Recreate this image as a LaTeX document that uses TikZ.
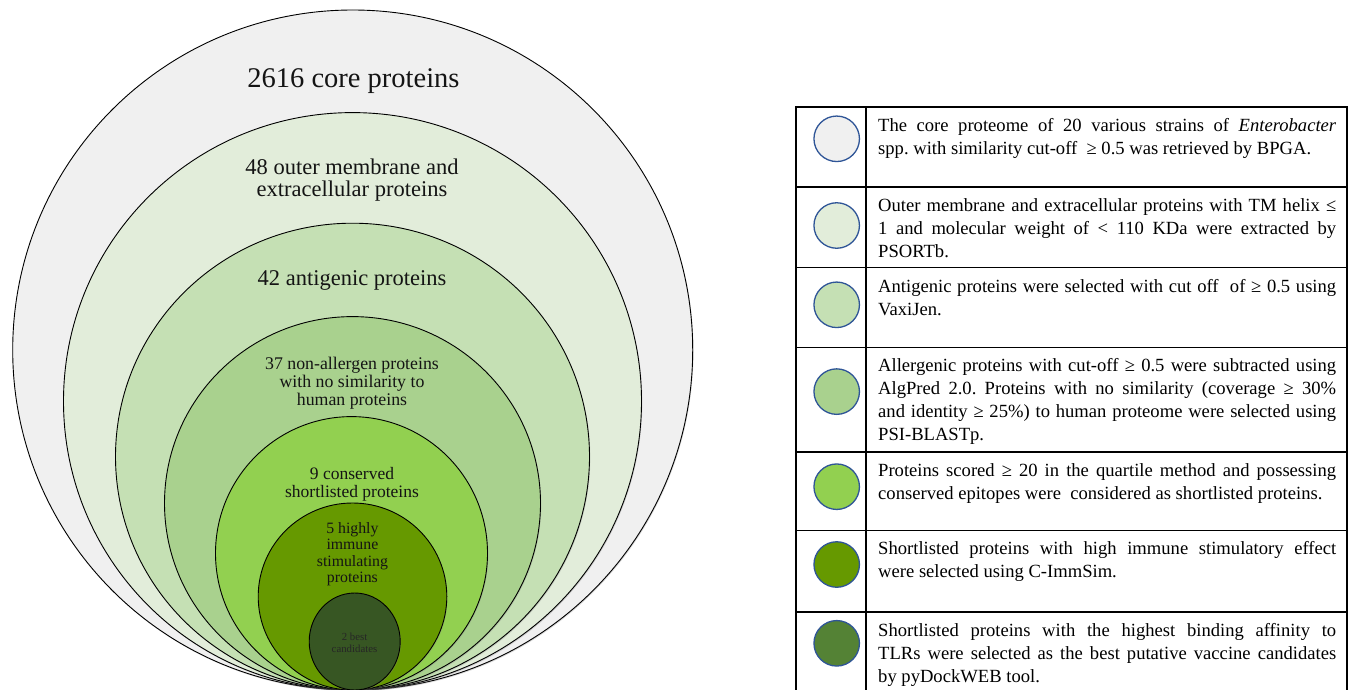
\documentclass[tikz,border=0pt]{standalone}
\usepackage{fontspec}
\setmainfont{Liberation Serif}
\usetikzlibrary{shapes.geometric,shadows}
\definecolor{cA}{HTML}{F0F0F0}
\definecolor{cB}{HTML}{E2EDDA}
\definecolor{cC}{HTML}{C5E0B4}
\definecolor{cD}{HTML}{A9D18E}
\definecolor{cE}{HTML}{92D050}
\definecolor{cF}{HTML}{669900}
\definecolor{cG}{HTML}{375623}
\definecolor{sG}{HTML}{548235}
\definecolor{swblue}{HTML}{2F5597}
\newcommand{\descset}{\frenchspacing\hyphenpenalty=10000 \exhyphenpenalty=10000 \tolerance=9999 }
\begin{document}
\begin{tikzpicture}[x=1pt,y=-1pt,
  ring/.style={ellipse, draw=black, line width=0.9pt, inner sep=0pt,
    drop shadow={shadow xshift=0.8pt,shadow yshift=-1.2pt,opacity=0.3}},
  lbl/.style={align=center, text=black!92, inner sep=0pt},
  swatch/.style={circle, draw=swblue, line width=1.3pt, minimum size=45.5pt, inner sep=0pt},
  desc/.style={anchor=north west, inner sep=0pt, text width=458pt, align=justify,
    font=\fontsize{18.6}{22.8}\selectfont},
  gridline/.style={line width=1.4pt, draw=black}]
\useasboundingbox (0,0) rectangle (1356,690);
\fill[white] (0,0) rectangle (1356,690);

% nested ellipses
\node[ring, fill=cA, minimum width=680pt, minimum height=680pt] (e1) at (352.7,350) {};
\node[ring, fill=cB, minimum width=578pt, minimum height=577.4pt] (e2) at (352.5,401.3) {};
\node[ring, fill=cC, minimum width=474pt, minimum height=466.8pt] (e3) at (352.5,456.6) {};
\node[ring, fill=cD, minimum width=376pt, minimum height=373.4pt] (e4) at (352.5,503.3) {};
\node[ring, fill=cE, minimum width=272pt, minimum height=273.4pt] (e5) at (351.5,553.3) {};
\node[ring, fill=cF, minimum width=188.6pt, minimum height=187pt] (e6) at (352.5,596.5) {};
\node[ring, fill=cG, minimum width=91pt, minimum height=97pt] (e7) at (354.7,641.5) {};

% labels
\node[lbl, font=\fontsize{28.5}{33}\selectfont] (l1) at (353.5,81) {2616 core proteins};
\node[lbl, font=\fontsize{22.5}{22.8}\selectfont] (l2) at (352,180) {48 outer membrane and\\extracellular proteins};
\node[lbl, font=\fontsize{22.5}{22.5}\selectfont] (l3) at (352,280) {42 antigenic proteins};
\node[lbl, font=\fontsize{17.8}{18}\selectfont] (l4) at (352,383.5) {37 non-allergen proteins\\with no similarity to\\human proteins};
\node[lbl, font=\fontsize{17.5}{18}\selectfont] (l5) at (352,484) {9 conserved\\shortlisted proteins};
\node[lbl, font=\fontsize{15.8}{16.4}\selectfont] (l6) at (352.4,554.3) {5 highly\\immune\\stimulating\\proteins};
\node[lbl, font=\fontsize{10.8}{11.7}\selectfont, text=black!85] (l7) at (354.5,642.8) {2 best\\candidates};

% table grid
\draw[gridline] (796,107) rectangle (1347,693);
\draw[gridline] (866,107) -- (866,693);
\foreach \yy in {187,267.5,347.5,452,530.5,612}
  \draw[gridline] (796,\yy) -- (1347,\yy);

% swatches
\node[swatch, fill=cA] (s1) at (836.7,138.8) {};
\node[swatch, fill=cB] (s2) at (836.7,225.5) {};
\node[swatch, fill=cC] (s3) at (836.7,304.8) {};
\node[swatch, fill=cD] (s4) at (836.7,391.6) {};
\node[swatch, fill=cE] (s5) at (836.7,486.7) {};
\node[swatch, fill=cF] (s6) at (836.7,564.5) {};
\node[swatch, fill=sG] (s7) at (836.7,643.3) {};

% descriptions
\node[desc] (t1) at (878,118.5) {\descset The core proteome of 20 various strains of \textit{Enterobacter}\linebreak spp. with similarity cut-off\ \ ≥ 0.5 was retrieved by BPGA.};
\node[desc] (t2) at (878,198.5) {\descset Outer membrane and extracellular proteins with TM helix ≤\linebreak 1 and molecular weight of < 110 KDa were extracted by\linebreak PSORTb.};
\node[desc] (t3) at (878,279) {\descset Antigenic proteins were selected with cut off\ \ of ≥ 0.5 using\linebreak VaxiJen.};
\node[desc] (t4) at (878,358.5) {\descset Allergenic proteins with cut-off ≥ 0.5 were subtracted using\linebreak AlgPred 2.0. Proteins with no similarity (coverage ≥ 30\%\linebreak and identity ≥ 25\%) to human proteome were selected using\linebreak PSI-BLASTp.};
\node[desc] (t5) at (878,463.5) {\descset Proteins scored ≥ 20 in the quartile method and possessing\linebreak conserved epitopes were\ \ considered as shortlisted proteins.};
\node[desc] (t6) at (878,541.5) {\descset Shortlisted proteins with high immune stimulatory effect\linebreak were selected using C-ImmSim.};
\node[desc] (t7) at (878,623.5) {\descset Shortlisted proteins with the highest binding affinity to\linebreak TLRs were selected as the best putative vaccine candidates\linebreak by pyDockWEB tool.};
\end{tikzpicture}
\end{document}
